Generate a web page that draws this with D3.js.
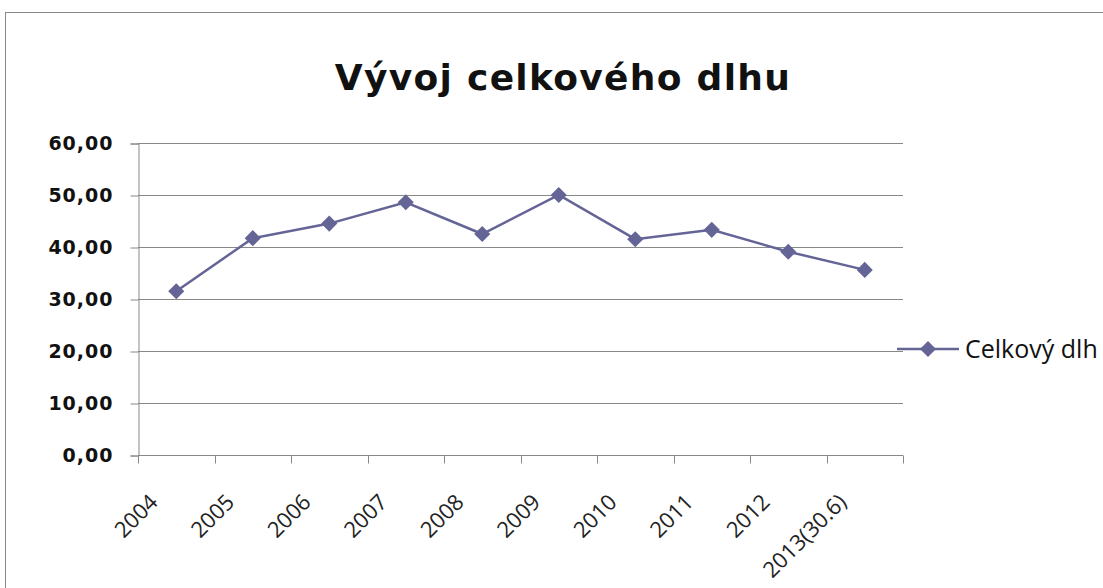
<!DOCTYPE html>
<html><head><meta charset="utf-8">
<script src="https://cdn.jsdelivr.net/npm/d3@7"></script>
<style>
html,body{margin:0;padding:0;background:#fff;}
svg{display:block;}
</style></head>
<body>
<script>
const categories = ["2004","2005","2006","2007","2008","2009","2010","2011","2012","2013(30.6)"];
const values = [31.5, 41.7, 44.5, 48.6, 42.5, 50.0, 41.5, 43.3, 39.1, 35.6];
const yTicks = [0,10,20,30,40,50,60];
const seriesName = "Celkový dlh";
const title = "Vývoj celkového dlhu";

(function(){
const W = 1103, H = 588;
const svg = d3.select("body").append("svg").attr("width", W).attr("height", H);

// outer frame
svg.append("rect").attr("x",5.5).attr("y",12.5).attr("width",W-5).attr("height",H).attr("fill","#fff").attr("stroke","#888").attr("stroke-width",1);

const pL = 138, pR = 903, pT = 143, pB = 455;
const x = d3.scaleBand().domain(categories).range([pL, pR]).paddingInner(0).paddingOuter(0);
const y = d3.scaleLinear().domain([0,60]).range([pB, pT]);

// gridlines
svg.append("g").selectAll("line").data(yTicks.filter(d=>d>0)).join("line")
  .attr("x1", pL).attr("x2", pR)
  .attr("y1", d=>Math.round(y(d))+0.5).attr("y2", d=>Math.round(y(d))+0.5)
  .attr("stroke","#888").attr("stroke-width",1);

// y axis
const yAxis = svg.append("g").attr("transform",`translate(${pL+0.5},0.5)`)
  .call(d3.axisLeft(y).tickValues(yTicks).tickSize(8).tickPadding(17).tickFormat(d=>d3.format(".2f")(d).replace(".",",")));
yAxis.select(".domain").attr("stroke","#888");
yAxis.selectAll(".tick line").attr("stroke","#888");
yAxis.selectAll("text").attr("font-family","DejaVu Sans").attr("font-weight","bold").attr("font-size","19px").attr("fill","#111").attr("letter-spacing","1px");

// x axis: ticks at band boundaries
const xAxisG = svg.append("g").attr("transform",`translate(0,${pB+0.5})`);
xAxisG.append("line").attr("x1",pL).attr("x2",pR).attr("stroke","#888");
const bounds = categories.map(c=>x(c)).concat([pR]);
xAxisG.selectAll("line.tk").data(bounds).join("line").attr("class","tk")
  .attr("x1",d=>Math.round(d)+0.5).attr("x2",d=>Math.round(d)+0.5).attr("y1",0).attr("y2",8).attr("stroke","#888");
xAxisG.selectAll("text").data(categories).join("text")
  .attr("transform", d=>`translate(${x(d)+x.bandwidth()/2-17},${48}) rotate(-45)`)
  .attr("text-anchor","end")
  .attr("font-family","Open Sans").attr("font-size","22px").attr("fill","#222")
  .text(d=>d);

// line
const line = d3.line().x((d,i)=>x(categories[i])+x.bandwidth()/2).y(d=>y(d));
svg.append("path").datum(values).attr("d",line).attr("fill","none").attr("stroke","#646496").attr("stroke-width",2.5);
const diamond = d3.symbol().type(d3.symbolDiamond2).size(165);
svg.append("g").selectAll("path").data(values).join("path")
  .attr("transform",(d,i)=>`translate(${x(categories[i])+x.bandwidth()/2},${y(d)})`)
  .attr("d", diamond).attr("fill","#646496");

// title
svg.append("text").attr("x",563).attr("y",90).attr("text-anchor","middle")
  .attr("font-family","DejaVu Sans").attr("font-weight","bold").attr("font-size","36px").attr("letter-spacing","1.3px").attr("fill","#111").text(title);

// legend
const lg = svg.append("g").attr("transform","translate(897,349)");
lg.append("line").attr("x1",0).attr("x2",62).attr("y1",0).attr("y2",0).attr("stroke","#646496").attr("stroke-width",2.5);
lg.append("path").attr("transform","translate(31,0)").attr("d",diamond).attr("fill","#646496");
lg.append("text").attr("x",68).attr("y",9).attr("font-family","Open Sans").attr("font-size","25px").attr("fill","#111").text(seriesName);
})();
</script>
</body></html>
